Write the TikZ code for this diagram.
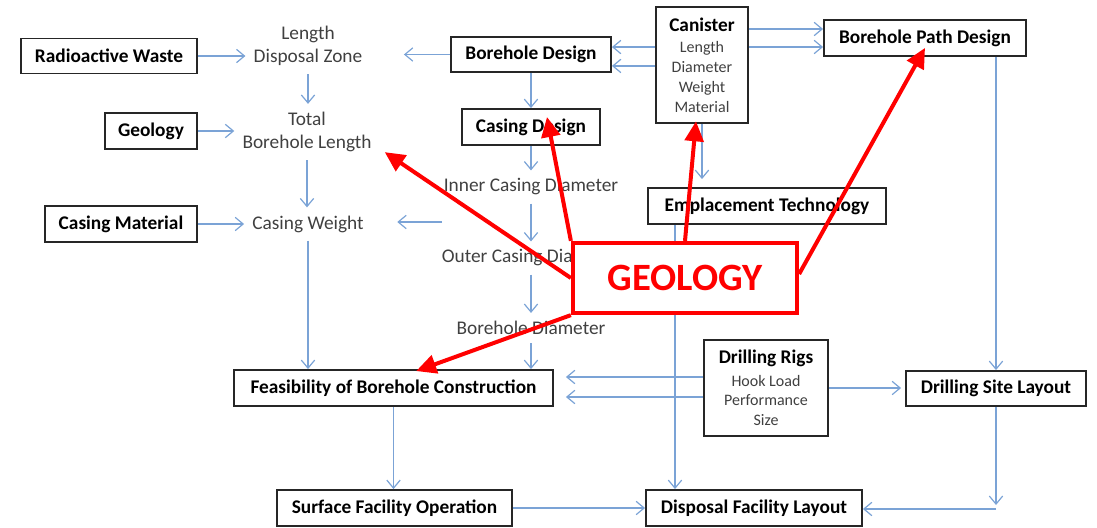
\documentclass[tikz,border=0pt]{standalone}
\usepackage{fontspec}
\setmainfont{Carlito}
\usetikzlibrary{arrows.meta}
\newcommand\boxhead{\fontsize{14.5}{17}\selectfont\bfseries\color{black}}
\newcommand\boxsub{\fontsize{12}{14.8}\selectfont\mdseries}
\begin{document}
\begin{tikzpicture}[x=0.75pt, y=-0.75pt,
  box/.style={draw=boxline, line width=1.4pt, fill=white, inner sep=0pt, align=center, text=black, font=\fontsize{14.5}{17}\selectfont\bfseries},
  plain/.style={inner sep=6pt, align=center, text=labeltext, font=\fontsize{14.5}{17.25}\selectfont},
  link/.style={draw=linkblue, line width=0.9pt, -{Straight Barb[length=6pt,width=10pt]}},
  alarm/.style={draw=red, line width=3.2pt, fill=white, text=red, font=\fontsize{29}{34}\selectfont\bfseries},
  hot/.style={draw=red, line width=3pt, -{Triangle[length=15pt,width=14pt]}}]
\definecolor{boxline}{HTML}{262626}
\definecolor{labeltext}{HTML}{404040}
\definecolor{linkblue}{HTML}{7BA3D6}
\useasboundingbox (0,0) rectangle (1097,528);
\node[box, minimum width=132pt, minimum height=26.25pt] (waste) at (109,56) {Radioactive Waste};
\node[box, minimum width=69pt, minimum height=27pt] (geol) at (151,131) {Geology};
\node[box, minimum width=114pt, minimum height=27pt] (casmat) at (121,224) {Casing Material};
\node[box, minimum width=120pt, minimum height=26.25pt] (bhdes) at (531,54.5) {Borehole Design};
\node[box, minimum width=69pt, minimum height=87pt, text=labeltext, font=\boxsub] (canister) at (702,65) {{\boxhead Canister}\\[1.5pt]Length\\Diameter\\Weight\\Material};
\node[box, minimum width=151.5pt, minimum height=27pt] (path) at (925,38) {Borehole Path Design};
\node[box, minimum width=103.5pt, minimum height=27pt] (casdes) at (531,127) {Casing Design};
\node[box, minimum width=178.5pt, minimum height=27pt] (emplace) at (767,206) {Emplacement Technology};
\node[box, minimum width=239.25pt, minimum height=27pt] (feas) at (393.5,388) {Feasibility of Borehole Construction};
\node[box, minimum width=93pt, minimum height=72pt, text=labeltext, font=\boxsub] (rigs) at (766,388) {{\boxhead Drilling Rigs}\\[2pt]Hook Load\\Performance\\Size};
\node[box, minimum width=135pt, minimum height=26.25pt] (site) at (996,388.5) {Drilling Site Layout};
\node[box, minimum width=176.25pt, minimum height=27pt] (surface) at (394.5,508) {Surface Facility Operation};
\node[box, minimum width=162pt, minimum height=27pt] (facility) at (754,508) {Disposal Facility Layout};
\node[plain] (zone) at (308,46) {Length\\Disposal Zone};
\node[plain] (total) at (307,132) {Total\\Borehole Length};
\node[plain] (weight) at (308,224) {Casing Weight};
\node[plain] (inner) at (531,187) {Inner Casing Diameter};
\node[plain] (outer) at (531,258) {Outer Casing Diameter};
\node[plain] (bhdia) at (531,328) {Borehole Diameter};
\coordinate (weightin) at (442,222);
\coordinate (bend) at (996,509);
\draw[link] (waste.east) -- (waste.east -| zone.west);
\draw[link] (geol.east) -- (geol.east -| total.west);
\draw[link] (casmat.east) -- (casmat.east -| weight.west);
\draw[link, shorten >=25pt] (bhdes.west) -- (bhdes.west -| zone.east);
\draw[link, shorten >=19pt] (weightin) -- (weightin -| weight.east);
\draw[link] (zone.south) -- (zone.south |- total.north);
\draw[link] (total.south) -- (total.south |- weight.north);
\draw[link] (weight.south) -- (weight.south |- feas.north);
\draw[link] (bhdes.south) -- (casdes.north);
\draw[link] (casdes.south) -- (inner.north);
\draw[link] (inner.south) -- (outer.north);
\draw[link] (outer.south) -- (bhdia.north);
\draw[link] (bhdia.south) -- (bhdia.south |- feas.north);
\draw[link] ([yshift=5.6pt]bhdes.east -| canister.west) -- ([yshift=5.6pt]bhdes.east);
\draw[link] ([yshift=-8.6pt]bhdes.east -| canister.west) -- ([yshift=-8.6pt]bhdes.east);
\draw[link] ([yshift=6.75pt]path.west -| canister.east) -- ([yshift=6.75pt]path.west);
\draw[link] ([yshift=-6.75pt]path.west -| canister.east) -- ([yshift=-6.75pt]path.west);
\draw[link, shorten >=6pt] (canister.south) -- (canister.south |- emplace.north);
\draw[link] ([xshift=-59.25pt]facility.north |- emplace.south) -- ([xshift=-59.25pt]facility.north);
\draw[link] (site.north |- path.south) -- (site.north);
\draw[link, shorten >=9pt] ([yshift=8.25pt]rigs.west) -- ([yshift=8.25pt]rigs.west -| feas.east);
\draw[link, shorten >=9pt] ([yshift=-6.75pt]rigs.west) -- ([yshift=-6.75pt]rigs.west -| feas.east);
\draw[link, shorten >=3pt] (rigs.east) -- (rigs.east -| site.west);
\draw[link, shorten >=3pt] (site.south) -- (bend);
\draw[link] (bend) -- (bend -| facility.east);
\draw[link] (feas.south) -- (feas.south |- surface.north);
\draw[link] (surface.east) -- (surface.east -| facility.west);
\node[alarm, minimum width=168pt, minimum height=52.5pt] (geo) at (685,278) {GEOLOGY};
\draw[hot] (geo.west) -- ([xshift=3.75pt,yshift=6pt]total.south east);
\draw[hot] (geo.north west) -- ([xshift=12pt,yshift=7.5pt]casdes.center);
\draw[hot] (geo.north) -- ([xshift=-4.5pt,yshift=2pt]canister.south);
\draw[hot] ([yshift=3pt]geo.east) -- ([yshift=6.75pt]path.south);
\draw[hot] (geo.south west) -- ([xshift=17pt,yshift=-1.5pt]feas.north);
\end{tikzpicture}
\end{document}
